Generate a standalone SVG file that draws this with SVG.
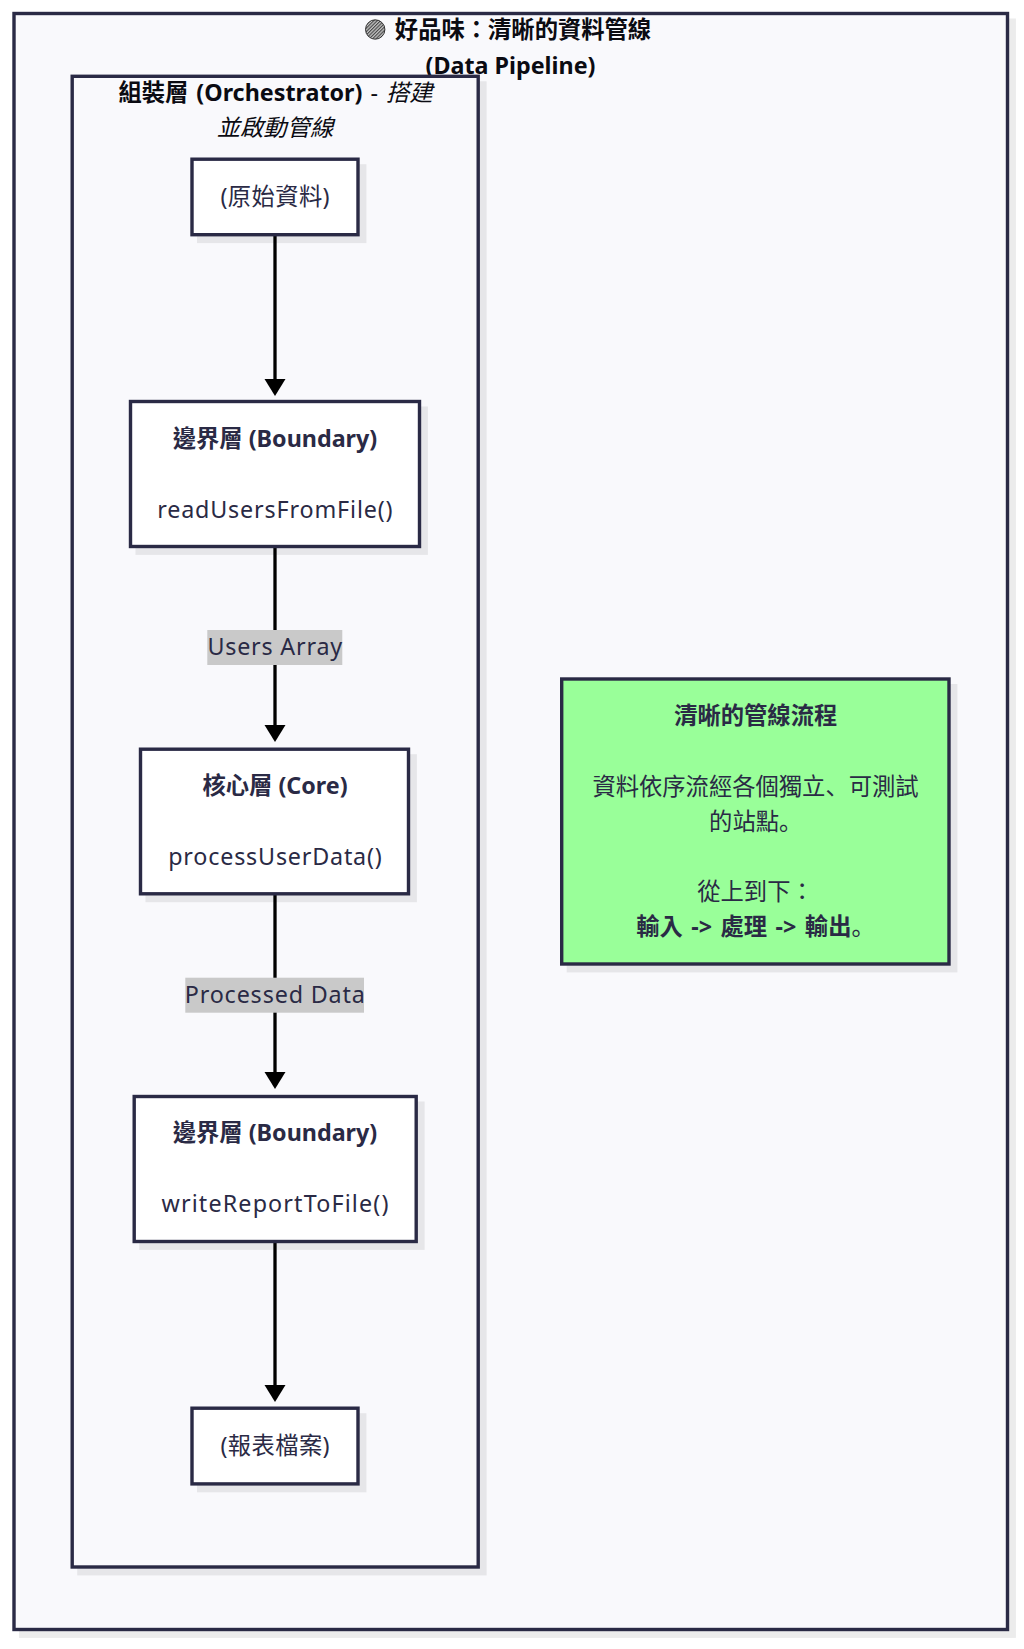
<svg xmlns="http://www.w3.org/2000/svg" width="1024" height="1649" viewBox="0 0 1024 1649">
<defs>
<marker id="arrow" markerUnits="userSpaceOnUse" markerWidth="18" markerHeight="22" refX="0" refY="10.5" orient="auto"><path d="M0 0L17 10.5L0 21z" fill="#000"/></marker>
<pattern id="hatch" patternUnits="userSpaceOnUse" width="2.4" height="2.4" patternTransform="rotate(45)"><rect width="2.4" height="2.4" fill="#c4c4c4"/><rect width="1.1" height="2.4" fill="#444"/></pattern>
</defs>
<style>
text{font-family:"Noto Sans","Noto Sans CJK TC",sans-serif;font-size:23.3px;text-anchor:middle;fill:#2a2a45}
.b{font-weight:700}
.t{fill:#0b0b12}
.p{font-family:"Noto Sans CJK JP",sans-serif}
.s{fill:#000;stroke:#000;stroke-width:3.4;opacity:.07}
.box{fill:#fff;stroke:#2a2a45;stroke-width:3.4}
.bg{fill:#f9f9fc;stroke:#2a2a45;stroke-width:3.4}
.e{stroke:#000;stroke-width:3.3;fill:none}
.l{fill:#c9c9c9}
</style>
<rect width="1024" height="1649" fill="#fff"/>
<g id="outer"><rect class="s" x="20.7" y="20.2" width="993.5" height="1616"/><rect class="bg" x="14" y="13.5" width="993.5" height="1616"/>
<circle cx="375.2" cy="29.5" r="9.7" fill="url(#hatch)" stroke="#222" stroke-width=".9"/>
<text class="b t" x="523" y="38">好品味：清晰的資料管線</text><text class="b t" x="510.5" y="74">(Data Pipeline)</text></g>
<g id="orchestrator"><rect class="s" x="78.9" y="83" width="406" height="1490.7"/><rect class="bg" x="72.2" y="76.3" width="406" height="1490.7"/>
<text class="t" x="275.5" y="101" word-spacing="2"><tspan class="b">組裝層 (Orchestrator)</tspan> - <tspan font-style="italic">搭建</tspan></text><text class="t" x="275" y="136" font-style="italic">並啟動管線</text></g>
<g id="connectors">
<path class="e" d="M275 235V379" marker-end="url(#arrow)"/>
<path class="e" d="M275 547V725" marker-end="url(#arrow)"/>
<path class="e" d="M275 894V1072" marker-end="url(#arrow)"/>
<path class="e" d="M275 1242V1385" marker-end="url(#arrow)"/>
<g id="label-users"><rect class="l" x="207.3" y="630" width="135" height="35"/><text x="275.2" y="655" letter-spacing=".8">Users Array</text></g>
<g id="label-processed"><rect class="l" x="185.3" y="977.7" width="178.7" height="35"/><text x="275.2" y="1003" letter-spacing=".85">Processed Data</text></g>
</g>
<g id="raw"><rect class="s" x="198.7" y="165.9" width="166" height="75.5"/><rect class="box" x="192" y="159.2" width="166" height="75.5"/><text x="275.2" y="205" letter-spacing=".4">(原始資料)</text></g>
<g id="boundary-read"><rect class="s" x="137.2" y="408.2" width="289" height="145"/><rect class="box" x="130.5" y="401.5" width="289" height="145"/><text class="b" x="275" y="447">邊界層 (Boundary)</text><text x="275.3" y="517.5" letter-spacing=".85">readUsersFromFile()</text></g>
<g id="core"><rect class="s" x="147.2" y="755.9" width="268" height="144.6"/><rect class="box" x="140.5" y="749.2" width="268" height="144.6"/><text class="b" x="275" y="794">核心層 (Core)</text><text x="275.4" y="864.5" letter-spacing=".8">processUserData()</text></g>
<g id="boundary-write"><rect class="s" x="140.9" y="1103.2" width="282" height="145"/><rect class="box" x="134.2" y="1096.5" width="282" height="145"/><text class="b" x="275" y="1141">邊界層 (Boundary)</text><text x="275.5" y="1212" letter-spacing="1.15">writeReportToFile()</text></g>
<g id="report"><rect class="s" x="198.7" y="1414.9" width="166" height="75.7"/><rect class="box" x="192" y="1408.2" width="166" height="75.7"/><text x="275.2" y="1454" letter-spacing=".4">(報表檔案)</text></g>
<g id="note"><rect class="s" x="568.4" y="685.7" width="387.3" height="285"/><rect class="box" x="561.7" y="679" width="387.3" height="285" style="fill:#9f9"/>
<text class="b" x="755.7" y="724">清晰的管線流程</text><text x="755.5" y="794.5">資料依序流經各個獨立<tspan class="p">、</tspan>可測試</text><text x="755.7" y="830">的站點<tspan class="p">。</tspan></text><text x="755.5" y="900">從上到下：</text><text x="755.5" y="935" word-spacing="2.4"><tspan class="b">輸入 -&gt; 處理 -&gt; 輸出</tspan><tspan class="p">。</tspan></text></g>
</svg>
